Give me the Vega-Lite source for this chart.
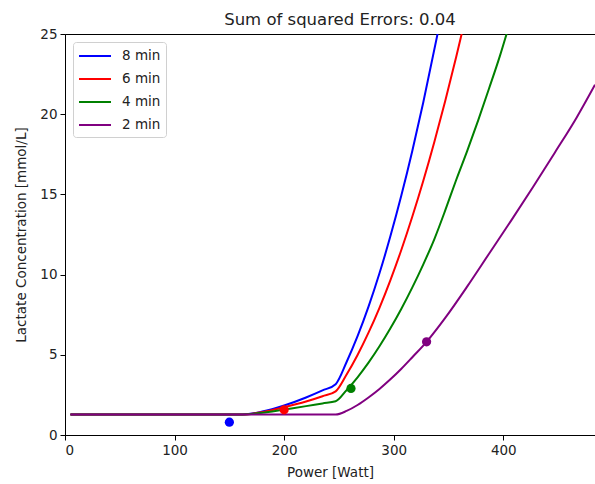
{
  "$schema": "https://vega.github.io/schema/vega-lite/v6.json",
  "width": 530,
  "height": 401,
  "autosize": {"type": "none"},
  "padding": {"left": 65, "top": 34, "right": 0, "bottom": 49},
  "background": "white",
  "config": {
    "font": "DejaVu Sans",
    "view": {"stroke": "black", "strokeWidth": 1},
    "axis": {"grid": false, "domainColor": "black", "tickColor": "black", "tickSize": 5, "labelFontSize": 13.5, "labelColor": "#222", "titleFontSize": 13.5, "titleFontWeight": "normal", "titleColor": "#222", "labelFont": "DejaVu Sans", "titleFont": "DejaVu Sans"}
  },
  "title": {"text": "Sum of squared Errors: 0.04", "fontSize": 16.5, "fontWeight": "normal", "font": "DejaVu Sans", "color": "#222", "anchor": "middle", "dx": 10, "offset": -1},
  "datasets": {
    "curves": [
      {"series": "8 min", "power": 5, "lactate": 1.28},
      {"series": "8 min", "power": 162, "lactate": 1.28},
      {"series": "8 min", "power": 180, "lactate": 1.46},
      {"series": "8 min", "power": 200, "lactate": 1.84},
      {"series": "8 min", "power": 220, "lactate": 2.34},
      {"series": "8 min", "power": 235, "lactate": 2.78},
      {"series": "8 min", "power": 247, "lactate": 3.17},
      {"series": "8 min", "power": 257, "lactate": 4.55},
      {"series": "8 min", "power": 267, "lactate": 6.16},
      {"series": "8 min", "power": 277, "lactate": 8.0},
      {"series": "8 min", "power": 287, "lactate": 10.08},
      {"series": "8 min", "power": 297, "lactate": 12.4},
      {"series": "8 min", "power": 307, "lactate": 14.94},
      {"series": "8 min", "power": 317, "lactate": 17.72},
      {"series": "8 min", "power": 327, "lactate": 20.74},
      {"series": "8 min", "power": 340, "lactate": 25},
      {"series": "6 min", "power": 5, "lactate": 1.28},
      {"series": "6 min", "power": 162, "lactate": 1.28},
      {"series": "6 min", "power": 180, "lactate": 1.42},
      {"series": "6 min", "power": 200, "lactate": 1.73},
      {"series": "6 min", "power": 220, "lactate": 2.09},
      {"series": "6 min", "power": 235, "lactate": 2.42},
      {"series": "6 min", "power": 247, "lactate": 2.72},
      {"series": "6 min", "power": 257, "lactate": 3.77},
      {"series": "6 min", "power": 267, "lactate": 4.99},
      {"series": "6 min", "power": 277, "lactate": 6.38},
      {"series": "6 min", "power": 287, "lactate": 7.93},
      {"series": "6 min", "power": 297, "lactate": 9.66},
      {"series": "6 min", "power": 307, "lactate": 11.55},
      {"series": "6 min", "power": 317, "lactate": 13.62},
      {"series": "6 min", "power": 327, "lactate": 15.85},
      {"series": "6 min", "power": 337, "lactate": 18.25},
      {"series": "6 min", "power": 347, "lactate": 20.82},
      {"series": "6 min", "power": 357, "lactate": 23.56},
      {"series": "6 min", "power": 362, "lactate": 25},
      {"series": "4 min", "power": 5, "lactate": 1.28},
      {"series": "4 min", "power": 162, "lactate": 1.28},
      {"series": "4 min", "power": 180, "lactate": 1.38},
      {"series": "4 min", "power": 200, "lactate": 1.59},
      {"series": "4 min", "power": 220, "lactate": 1.8},
      {"series": "4 min", "power": 235, "lactate": 1.97},
      {"series": "4 min", "power": 247, "lactate": 2.1},
      {"series": "4 min", "power": 257, "lactate": 2.8},
      {"series": "4 min", "power": 267, "lactate": 3.6},
      {"series": "4 min", "power": 277, "lactate": 4.51},
      {"series": "4 min", "power": 287, "lactate": 5.53},
      {"series": "4 min", "power": 297, "lactate": 6.65},
      {"series": "4 min", "power": 307, "lactate": 7.87},
      {"series": "4 min", "power": 317, "lactate": 9.2},
      {"series": "4 min", "power": 327, "lactate": 10.64},
      {"series": "4 min", "power": 337, "lactate": 12.2},
      {"series": "4 min", "power": 347, "lactate": 14.0},
      {"series": "4 min", "power": 357, "lactate": 15.9},
      {"series": "4 min", "power": 367, "lactate": 17.7},
      {"series": "4 min", "power": 377, "lactate": 19.6},
      {"series": "4 min", "power": 387, "lactate": 21.6},
      {"series": "4 min", "power": 397, "lactate": 23.65},
      {"series": "4 min", "power": 403, "lactate": 25},
      {"series": "2 min", "power": 5, "lactate": 1.28},
      {"series": "2 min", "power": 247, "lactate": 1.28},
      {"series": "2 min", "power": 257, "lactate": 1.5},
      {"series": "2 min", "power": 267, "lactate": 1.87},
      {"series": "2 min", "power": 277, "lactate": 2.34},
      {"series": "2 min", "power": 287, "lactate": 2.87},
      {"series": "2 min", "power": 297, "lactate": 3.47},
      {"series": "2 min", "power": 307, "lactate": 4.13},
      {"series": "2 min", "power": 317, "lactate": 4.85},
      {"series": "2 min", "power": 330, "lactate": 5.81},
      {"series": "2 min", "power": 347, "lactate": 7.3},
      {"series": "2 min", "power": 367, "lactate": 9.25},
      {"series": "2 min", "power": 387, "lactate": 11.3},
      {"series": "2 min", "power": 407, "lactate": 13.35},
      {"series": "2 min", "power": 427, "lactate": 15.45},
      {"series": "2 min", "power": 447, "lactate": 17.6},
      {"series": "2 min", "power": 467, "lactate": 19.8},
      {"series": "2 min", "power": 483.7, "lactate": 21.84}
    ],
    "measured": [
      {"series": "8 min", "power": 150, "lactate": 0.8},
      {"series": "6 min", "power": 200, "lactate": 1.57},
      {"series": "4 min", "power": 261, "lactate": 2.9},
      {"series": "2 min", "power": 330, "lactate": 5.81}
    ]
  },
  "encoding": {
    "x": {"field": "power", "type": "quantitative", "scale": {"domain": [0, 483.7], "nice": false, "zero": false}, "axis": {"title": "Power [Watt]", "values": [0, 100, 200, 300, 400], "labelPadding": 3, "titlePadding": 9}},
    "y": {"field": "lactate", "type": "quantitative", "scale": {"domain": [0, 25], "nice": false}, "axis": {"title": "Lactate Concentration [mmol/L]", "values": [0, 5, 10, 15, 20, 25], "labelPadding": 3, "titlePadding": 11}}
  },
  "layer": [
    {
      "data": {"name": "curves"},
      "mark": {"type": "line", "strokeWidth": 2, "interpolate": "monotone", "clip": true},
      "encoding": {
        "color": {"field": "series", "type": "nominal", "sort": null,
          "scale": {"domain": ["8 min", "6 min", "4 min", "2 min"], "range": ["#0000ff", "#ff0000", "#008000", "#800080"]},
          "legend": {"title": null, "orient": "top-left", "offset": 8, "symbolType": "M-1,0L3,0", "symbolSize": 256, "symbolStrokeWidth": 2, "symbolFillColor": "transparent", "labelFontSize": 13.5, "labelColor": "#222", "labelFont": "DejaVu Sans", "labelOffset": 26, "rowPadding": 7, "padding": 5, "fillColor": "white", "strokeColor": "#d0d0d0", "cornerRadius": 3}
        }
      }
    },
    {
      "data": {"name": "measured"},
      "mark": {"type": "circle", "size": 85, "opacity": 1},
      "encoding": {
        "color": {"field": "series", "type": "nominal", "legend": null}
      }
    }
  ]
}
